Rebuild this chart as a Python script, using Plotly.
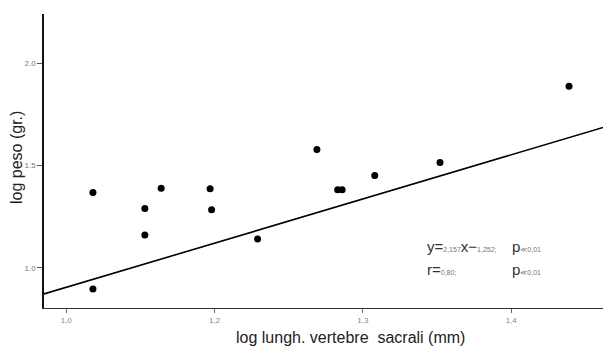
import plotly.graph_objects as go

# data
log_len = [1.018, 1.018, 1.053, 1.053, 1.064, 1.097, 1.098, 1.129,
           1.169, 1.183, 1.186, 1.208, 1.252, 1.339]
log_wt = [1.368, 0.897, 1.290, 1.160, 1.389, 1.386, 1.284, 1.141,
          1.578, 1.382, 1.382, 1.451, 1.515, 1.887]
slope, intercept = 2.157, -1.252
line_x = [0.985, 1.362]
line_y = [slope * v + intercept for v in line_x]

x_tickvals = [1.0, 1.1, 1.2, 1.3]
x_ticktext = ["1,0", "1,2", "1,3", "1,4"]
y_tickvals = [1.0, 1.5, 2.0]
y_ticktext = ["1.0", "1.5", "2.0"]
x_title = "log lungh. vertebre  sacrali (mm)"
y_title = "log peso (gr.)"

fig = go.Figure()
fig.add_trace(go.Scatter(x=line_x, y=line_y, mode="lines",
                         line=dict(color="black", width=1.6), hoverinfo="skip"))
fig.add_trace(go.Scatter(x=log_len, y=log_wt, mode="markers",
                         marker=dict(color="black", size=7)))

small = "font-size:7px;color:#777"
big = dict(family="Arial", size=15, color="#333")
fig.add_annotation(x=1.242, y=1.103, xref="x", yref="y", xanchor="left", yanchor="middle",
                   showarrow=False, font=big,
                   text=f"y=<span style='{small}'>2,157</span>x−<span style='{small}'>1,252;</span>")
fig.add_annotation(x=1.242, y=0.99, xref="x", yref="y", xanchor="left", yanchor="middle",
                   showarrow=False, font=big,
                   text=f"r=<span style='{small}'>0,80;</span>")
for yy in (1.103, 0.99):
    fig.add_annotation(x=1.2995, y=yy, xref="x", yref="y", xanchor="left", yanchor="middle",
                       showarrow=False, font=big,
                       text=f"p<span style='{small}'>≪0,01</span>")

# axis titles placed as paper annotations to match their positions
fig.add_annotation(x=0.5397, y=-0.102, xref="paper", yref="paper", showarrow=False,
                   xanchor="center", yanchor="middle", text=x_title,
                   font=dict(family="Arial", size=16, color="#222"))
fig.add_annotation(x=-0.0494, y=0.5136, xref="paper", yref="paper", showarrow=False,
                   xanchor="center", yanchor="middle", text=y_title, textangle=-90,
                   font=dict(family="Arial", size=16, color="#222"))

# the page body adds an 8px offset, so the figure is sized to compensate
fig.update_layout(
    width=603, height=338,
    margin=dict(l=36, r=0, t=6, b=38),
    paper_bgcolor="white", plot_bgcolor="white",
    showlegend=False,
    font=dict(family="Arial", color="#222"),
    xaxis=dict(range=[0.985, 1.3673], showgrid=False, zeroline=False, automargin=False,
               showline=True, linecolor="#333", linewidth=1.2,
               tickvals=x_tickvals, ticktext=x_ticktext, ticks="outside",
               ticklen=4, tickcolor="#666", tickfont=dict(size=8, color="#888")),
    yaxis=dict(range=[0.804, 2.24], showgrid=False, zeroline=False, automargin=False,
               showline=True, linecolor="#111", linewidth=1.6,
               tickvals=y_tickvals, ticktext=y_ticktext, ticks="outside",
               ticklen=5, tickcolor="#555", tickfont=dict(size=8, color="#777")),
)
fig.write_html("out.html")
